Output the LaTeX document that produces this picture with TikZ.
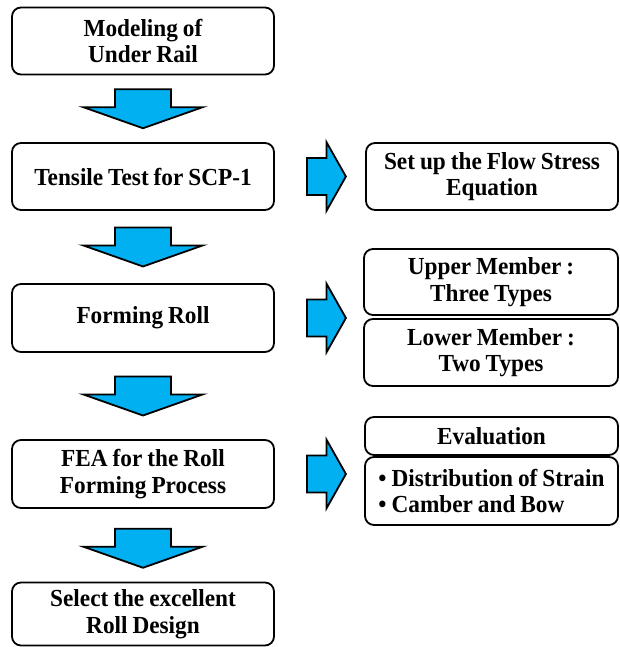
\documentclass[tikz,border=0pt]{standalone}
\usepackage{fontspec}
\setmainfont{Liberation Serif}
\newfontfamily\lblfont{Liberation Serif}[FakeStretch=0.95,WordSpace=0.85]
\usetikzlibrary{calc}
\definecolor{arrblue}{RGB}{0,176,240}
\begin{document}
\begin{tikzpicture}[x=1pt,y=-1pt,
  box/.style={draw,line width=1.8pt,rounded corners=9pt,align=center,
    font=\lblfont\fontsize{24.5}{26.5}\selectfont\bfseries,inner sep=0pt},
  arr/.style={fill=arrblue,draw=black,line width=1.8pt,line join=miter},
  downarr/.pic={\path[arr] (-28,-19.5) -- (28,-19.5) -- (28,-1.5) -- (59.5,-1.5)
     -- (0,19.5) -- (-59.5,-1.5) -- (-28,-1.5) -- cycle;},
  rightarr/.pic={\path[arr] (-19.5,-18.5) -- (0,-18.5) -- (0,-34.5) -- (19.5,0)
     -- (0,34.5) -- (0,18.5) -- (-19.5,18.5) -- cycle;}]
\useasboundingbox (0,0) rectangle (620,647);
% left column
\node[box,minimum width=262,minimum height=67] (b1) at (143,41) {Modeling of\\Under Rail};
\node[box,minimum width=262,minimum height=67] (b2) at (143,176.5) {Tensile Test for SCP-1};
\node[box,minimum width=262,minimum height=68] (b3) at (143,318) {Forming Roll};
\node[box,minimum width=262,minimum height=68] (b4) at (143,474) {FEA for the Roll\\Forming Process};
\node[box,minimum width=262,minimum height=63] (b5) at (143,614) {Select the excellent\\Roll Design};
% right column
\node[box,minimum width=252,minimum height=67] (r1) at (492,176.5) {Set up the Flow Stress\\Equation};
\node[box,minimum width=254,minimum height=66] (r2) at (491,282) {Upper Member :\\Three Types};
\node[box,minimum width=254,minimum height=67] (r3) at (491,352.5) {Lower Member :\\Two Types};
\node[box,minimum width=253,minimum height=38] (r4) at (491.5,436) {Evaluation};
\node[box,minimum width=253,minimum height=68,align=left] (r5) at (491.5,491) {• Distribution of Strain\\• Camber and Bow};
% down arrows
\pic at ($(b1.south)!0.5!(b2.north)$) {downarr};
\pic at ($(b2.south)!0.5!(b3.north)$) {downarr};
\pic at ($(b3.south)!0.5!(b4.north)$) {downarr};
\pic at ($(b4.south)!0.5!(b5.north)+(0,3)$) {downarr};
% right arrows
\pic at ($(b2.east)+(51.5,0)$) {rightarr};
\pic at ($(b3.east)+(51.5,0)$) {rightarr};
\pic at ($(b4.east)+(51.5,0)$) {rightarr};
\end{tikzpicture}
\end{document}
